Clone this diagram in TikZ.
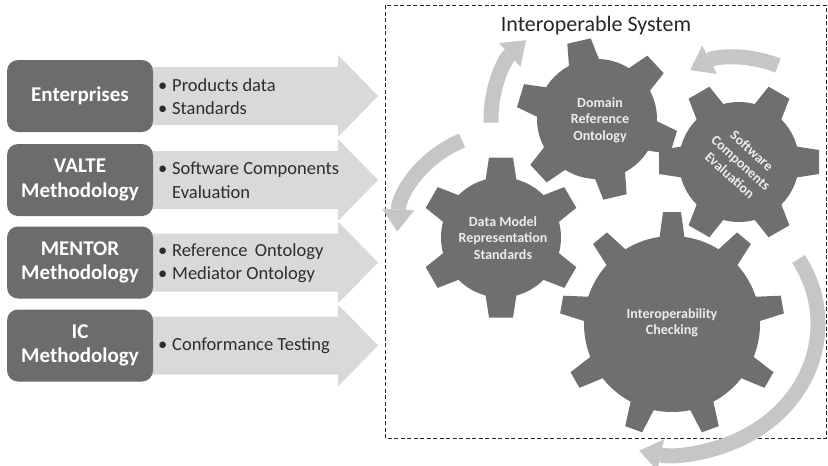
\documentclass[tikz,border=0pt]{standalone}
\usepackage{fontspec}
\setmainfont{Carlito}
\usetikzlibrary{arrows.meta}
\definecolor{gearc}{RGB}{111,111,111}
\definecolor{boxc}{RGB}{108,108,108}
\definecolor{blockc}{RGB}{217,217,217}
\definecolor{curvec}{RGB}{198,198,198}
\definecolor{btextc}{RGB}{45,45,45}
\definecolor{gtextc}{RGB}{236,236,236}
\newcommand\bul{\makebox[14pt][l]{•}}
\newcommand\drawgear[7]{%
  \begin{scope}[shift={(#1,#2)}]
    \fill[gearc] (0,0) circle[radius=#3];
    \foreach \a in {#5} {
      \fill[gearc, rotate=\a] (#3-6,-#7) -- (#4,-#6) -- (#4,#6) -- (#3-6,#7) -- cycle;
    }
  \end{scope}}
\newcommand\blockarrow[1]{%
  \fill[blockc] (140,#1-29) -- (338,#1-29) -- (338,#1-41) -- (378,#1) -- (338,#1+41) -- (338,#1+29) -- (140,#1+29) -- cycle;}
\tikzset{
  lbox/.style={fill=boxc, rounded corners=11pt, minimum width=146pt, minimum height=72pt,
    text=white, font=\bfseries\fontsize{21}{24.5}\selectfont, align=center, inner sep=0pt},
  btext/.style={anchor=west, text=btextc, font=\fontsize{18.5}{23.5}\selectfont, align=left, inner sep=0pt},
  gtext/.style={text=gtextc, font=\bfseries\fontsize{14}{16.5}\selectfont, align=center, inner sep=0pt},
  carrow/.style={draw=curvec, line width=15pt, -{Triangle[width=32pt,length=22pt,line width=0pt]}},
}
\begin{document}
\begin{tikzpicture}[x=1pt,y=-1pt]
\useasboundingbox (0,0) rectangle (828,466);
% block arrows
\blockarrow{96}
\blockarrow{180}
\blockarrow{262.5}
\blockarrow{345.5}
% left boxes
\node[lbox] (ent) at (80,96) {Enterprises};
\node[lbox] (valte) at (80,180) {VALTE\\Methodology};
\node[lbox] (mentor) at (80,262.5) {MENTOR\\Methodology};
\node[lbox] (ic) at (80,345.5) {IC\\Methodology};
% bullet texts
\node[btext] (b1) at (158,96.5) {\bul Products data\\\bul Standards};
\node[btext] (b2) at (158,180) {\bul Software Components\\\hspace*{14pt}Evaluation};
\node[btext] (b3) at (158,263) {\bul Reference\ \,Ontology\\\bul Mediator Ontology};
\node[btext] (b4) at (158,345.5) {\bul Conformance Testing};
% system frame
\draw[dashed, line width=0.8pt, dash pattern=on 4pt off 2.5pt, black!85] (385,5) rectangle (826,438);
\node[font=\fontsize{22}{26}\selectfont, text=black!85, inner sep=0pt] (title) at (596,26) {Interoperable System};
% gears
\drawgear{597}{119}{60}{80}{103,43,-17,-77,-137,163}{12}{16}
\drawgear{739}{162}{60}{80}{0,60,120,180,240,300}{12}{16}
\drawgear{501}{237.5}{60}{80}{90,30,-30,-90,-150,150}{12}{16}
\drawgear{672}{324}{88}{112}{90,50,10,-30,-70,-110,-150,170,130}{9}{13}
\node[gtext] (dro) at (600,120) {Domain\\Reference\\Ontology};
\node[gtext, rotate=-42] (sce) at (741,163) {Software\\Components\\Evaluation};
\node[gtext] (dmr) at (503,238) {Data Model\\Representation\\Standards};
\node[gtext] (ich) at (672,323) {Interoperability\\Checking};
% curved arrows
\coordinate (ca) at (597,119);
\coordinate (cb) at (501,237);
\coordinate (cc) at (739,162);
\coordinate (cd) at (672,324);
\draw[carrow] ([shift={(-182:106)}]ca) arc[start angle=-182, end angle=-132, radius=106];
\draw[carrow] ([shift={(-112:104)}]cb) arc[start angle=-112, end angle=-177, radius=104];
\draw[carrow] ([shift={(-68:104)}]cc) arc[start angle=-68, end angle=-118, radius=104];
\draw[carrow] ([shift={(-30:146 and 130)}]cd) arc[start angle=-30, end angle=103, x radius=146, y radius=130];
\end{tikzpicture}
\end{document}
